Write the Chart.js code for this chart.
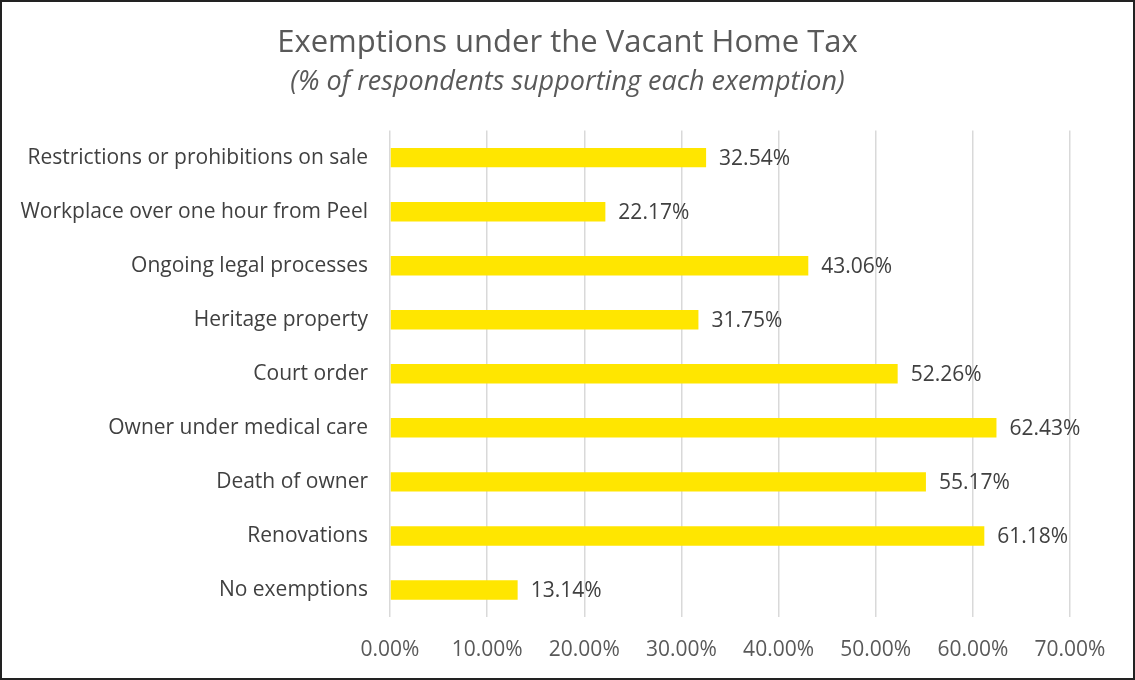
<!DOCTYPE html>
<html lang="en">
  <head>
    <meta charset="UTF-8" />
    <title>Exemptions under the Vacant Home Tax</title>
    <script src="https://cdn.jsdelivr.net/npm/chart.js"></script>
    <style>
      html, body { margin: 0; padding: 0; background: #fff; }
      .grafico { position: relative; width: 1135px; height: 680px; }
    </style>
  </head>
  <body>
    <div class="grafico">
      <canvas id="graficoIsencoes"></canvas>
    </div>
  </body>
</html>
<script>
  // dados
  const categorias = [
    "Restrictions or prohibitions on sale",
    "Workplace over one hour from Peel",
    "Ongoing legal processes",
    "Heritage property",
    "Court order",
    "Owner under medical care",
    "Death of owner",
    "Renovations",
    "No exemptions",
  ];
  const percentuais = [32.54, 22.17, 43.06, 31.75, 52.26, 62.43, 55.17, 61.18, 13.14];
  const eixoMin = 0;
  const eixoMax = 70;
  const eixoPasso = 10;

  const fonte = "'Open Sans', 'Noto Sans', sans-serif";

  // rotulos de valor no fim de cada barra
  const rotulosBarras = {
    id: "rotulosBarras",
    afterDatasetsDraw(chart) {
      const ctx = chart.ctx;
      const meta = chart.getDatasetMeta(0);
      ctx.save();
      ctx.font = `21px ${fonte}`;
      ctx.fillStyle = "#404040";
      ctx.textAlign = "left";
      ctx.textBaseline = "middle";
      meta.data.forEach((barra, i) => {
        ctx.fillText(percentuais[i].toFixed(2) + "%", barra.x + 13, barra.y + 1);
      });
      ctx.restore();
    },
  };

  // moldura em volta do grafico
  const moldura = {
    id: "moldura",
    afterDraw(chart) {
      const ctx = chart.ctx;
      ctx.save();
      ctx.strokeStyle = "#222";
      ctx.lineWidth = 2;
      ctx.strokeRect(1, 1, chart.width - 2, chart.height - 2);
      ctx.restore();
    },
  };

  new Chart(document.getElementById("graficoIsencoes"), {
    type: "bar",
    data: {
      labels: categorias,
      datasets: [
        {
          data: percentuais,
          backgroundColor: "#FFE600",
          borderWidth: 0,
          categoryPercentage: 1,
          barPercentage: 0.36,
        },
      ],
    },
    options: {
      indexAxis: "y",
      responsive: true,
      maintainAspectRatio: false,
      animation: false,
      layout: { padding: 0 },
      plugins: {
        legend: { display: false },
        tooltip: { enabled: false },
        title: {
          display: true,
          text: "Exemptions under the Vacant Home Tax",
          color: "#595959",
          font: { family: fonte, size: 31, weight: "normal" },
          padding: { top: 25, bottom: 4 },
        },
        subtitle: {
          display: true,
          text: "(% of respondents supporting each exemption)",
          color: "#595959",
          font: { family: fonte, size: 27, style: "italic" },
          padding: { top: 0, bottom: 32 },
        },
      },
      scales: {
        x: {
          min: eixoMin,
          max: eixoMax,
          afterFit(scale) {
            scale.height = 63;
          },
          ticks: {
            stepSize: eixoPasso,
            color: "#595959",
            font: { family: fonte, size: 21 },
            padding: 20,
            callback: (v) => v.toFixed(2) + "%",
          },
          grid: { color: "#d9d9d9", lineWidth: 1.5, drawTicks: false },
          border: { display: false },
        },
        y: {
          afterFit(scale) {
            scale.width = 390;
          },
          ticks: {
            color: "#404040",
            font: { family: fonte, size: 21 },
            padding: 22,
          },
          grid: { display: false, drawTicks: false },
          border: { display: false },
        },
        // eixo vazio a direita so para reservar a margem
        margemDireita: {
          type: "category",
          position: "right",
          afterFit(scale) {
            scale.width = 65;
          },
          ticks: { display: false },
          grid: { display: false, drawTicks: false },
          border: { display: false },
        },
      },
    },
    plugins: [rotulosBarras, moldura],
  });
</script>
